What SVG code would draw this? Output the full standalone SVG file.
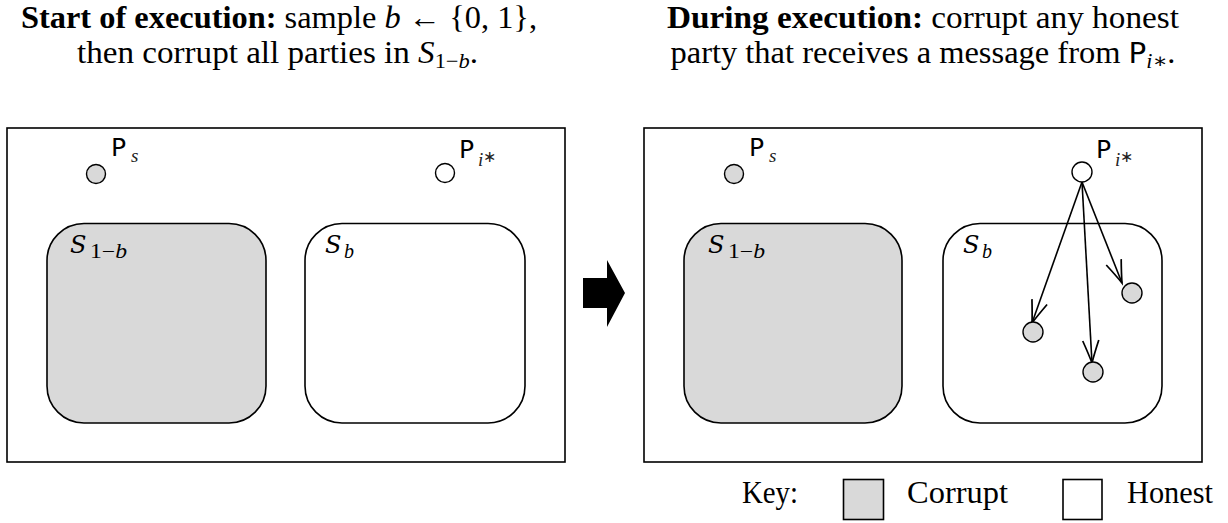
<svg xmlns="http://www.w3.org/2000/svg" width="1228" height="523" viewBox="0 0 1228 523">
  <style>
    .title { font-family: "Liberation Serif", "DejaVu Serif", serif; font-size: 31px; fill: #000; }
    .bold { font-weight: bold; }
    .it { font-style: italic; }
    .panel { fill: #fff; stroke: #000; stroke-width: 1.6; }
    .set { stroke: #000; stroke-width: 1.6; }
    .corrupt { fill: #d9d9d9; }
    .honest { fill: #fff; }
    .party { stroke: #000; stroke-width: 1.4; }
    .plabel { font-family: "DejaVu Sans", "Liberation Sans", sans-serif; font-size: 25px; fill: #000; }
    .psub { font-family: "Liberation Serif", serif; font-style: italic; font-size: 19px; fill: #222; }
    .slabel { font-family: "DejaVu Serif", serif; font-style: italic; font-size: 24px; fill: #000; }
    .ssub { font-family: "Liberation Serif", serif; font-size: 20px; fill: #000; }
    .key { font-family: "Liberation Serif", "DejaVu Serif", serif; font-size: 31px; fill: #000; }
    .msg { stroke: #000; stroke-width: 1.6; fill: none; marker-end: url(#vhead); }
  </style>
  <defs>
    <marker id="vhead" markerUnits="userSpaceOnUse" markerWidth="30" markerHeight="30" viewBox="-24 -12 28 24" refX="0" refY="0" orient="auto">
      <path d="M -21 -7.5 Q -8 -2.5 0 0 Q -8 2.5 -21 7.5" fill="none" stroke="#000" stroke-width="1.6"/>
    </marker>
  </defs>
  <rect width="1228" height="523" fill="#fff"/>

  <g id="title-left">
    <text class="title" x="279" y="28" text-anchor="middle" textLength="516" lengthAdjust="spacingAndGlyphs"><tspan class="bold">Start of execution:</tspan> sample <tspan class="it">b</tspan> ← {0, 1},</text>
    <text class="title" x="277.5" y="63" text-anchor="middle" textLength="401" lengthAdjust="spacingAndGlyphs">then corrupt all parties in <tspan class="it">S</tspan><tspan font-size="21" dy="5">1−<tspan class="it">b</tspan></tspan><tspan dy="-5">.</tspan></text>
  </g>
  <g id="title-right">
    <text class="title" x="923" y="28" text-anchor="middle" textLength="512" lengthAdjust="spacingAndGlyphs"><tspan class="bold">During execution:</tspan> corrupt any honest</text>
    <text class="title" x="923" y="63" text-anchor="middle" textLength="505" lengthAdjust="spacingAndGlyphs">party that receives a message from <tspan font-family="DejaVu Sans, sans-serif" font-size="28">P</tspan><tspan font-size="21" dy="5"><tspan class="it">i</tspan>∗</tspan><tspan dy="-5">.</tspan></text>
  </g>

  <!-- Left panel -->
  <g id="panel-left">
    <rect class="panel" x="7" y="128" width="558" height="334"/>
  </g>
  <g id="left-S1b">
    <rect class="set corrupt" x="47" y="223.5" width="219" height="199.5" rx="37" ry="37"/>
    <text class="slabel" x="70" y="253">S</text><text class="ssub" x="90" y="258" textLength="37" lengthAdjust="spacingAndGlyphs">1−<tspan class="it">b</tspan></text>
  </g>
  <g id="left-Sb">
    <rect class="set honest" x="305" y="223.5" width="220" height="199.5" rx="37" ry="37"/>
    <text class="slabel" x="325" y="253">S</text><text class="ssub it" x="344" y="258">b</text>
  </g>
  <g id="left-Ps">
    <circle class="party corrupt" cx="96" cy="174" r="9.5"/>
    <text class="plabel" x="111" y="156">P</text><text class="psub" x="131" y="162">s</text>
  </g>
  <g id="left-Pi">
    <circle class="party honest" cx="445" cy="173" r="9.5"/>
    <text class="plabel" x="459" y="158">P</text><text class="psub" x="478" y="166">i<tspan font-style="normal" font-size="16" dy="-4">∗</tspan></text>
  </g>

  <!-- Transition arrow -->
  <g id="transition-arrow">
    <polygon points="583,278 607,278 607,260 625,293 607,327 607,308 583,308" fill="#000"/>
  </g>

  <!-- Right panel -->
  <g id="panel-right">
    <rect class="panel" x="644" y="128" width="558" height="334"/>
  </g>
  <g id="right-S1b">
    <rect class="set corrupt" x="684" y="223.5" width="218" height="199.5" rx="37" ry="37"/>
    <text class="slabel" x="708" y="253">S</text><text class="ssub" x="728" y="258" textLength="37" lengthAdjust="spacingAndGlyphs">1−<tspan class="it">b</tspan></text>
  </g>
  <g id="right-Sb">
    <rect class="set honest" x="943" y="223.5" width="219" height="199.5" rx="37" ry="37"/>
    <text class="slabel" x="963" y="253">S</text><text class="ssub it" x="982" y="258">b</text>
  </g>
  <g id="right-Ps">
    <circle class="party corrupt" cx="734" cy="174" r="9.5"/>
    <text class="plabel" x="749" y="156">P</text><text class="psub" x="769" y="162">s</text>
  </g>

  <g id="connectors">
    <line class="msg" x1="1082" y1="182" x2="1032" y2="323"/>
    <line class="msg" x1="1082" y1="182" x2="1092" y2="363"/>
    <line class="msg" x1="1082" y1="182" x2="1122" y2="283"/>
  </g>

  <g id="right-Pi">
    <circle class="party honest" cx="1082" cy="172" r="10"/>
    <text class="plabel" x="1096" y="158">P</text><text class="psub" x="1115" y="166">i<tspan font-style="normal" font-size="16" dy="-4">∗</tspan></text>
  </g>
  <g id="recv-1"><circle class="party corrupt" cx="1033" cy="332" r="10"/></g>
  <g id="recv-2"><circle class="party corrupt" cx="1093" cy="372" r="10"/></g>
  <g id="recv-3"><circle class="party corrupt" cx="1132" cy="293" r="10"/></g>

  <!-- Key -->
  <g id="key">
    <text class="key" x="742" y="503" textLength="56" lengthAdjust="spacingAndGlyphs">Key:</text>
    <rect class="set corrupt" x="843.5" y="479.5" width="40" height="40"/>
    <text class="key" x="907" y="503" textLength="101" lengthAdjust="spacingAndGlyphs">Corrupt</text>
    <rect class="set honest" x="1063" y="479.5" width="39" height="40"/>
    <text class="key" x="1127" y="503" textLength="86" lengthAdjust="spacingAndGlyphs">Honest</text>
  </g>
</svg>
